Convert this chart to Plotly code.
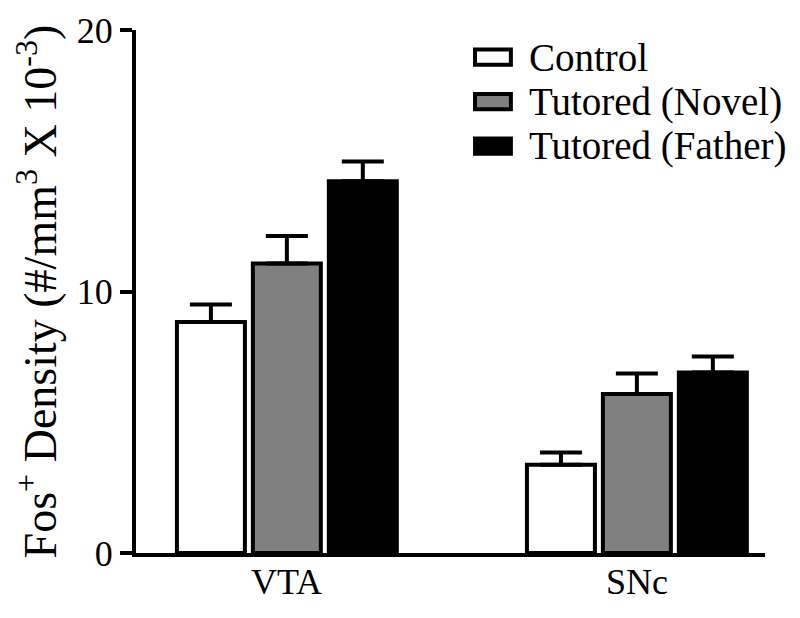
import plotly.graph_objects as go

# data
regions = ['VTA', 'SNc']
groups = ['Control', 'Tutored (Novel)', 'Tutored (Father)']
fos_density = {
    'Control': [8.83, 3.37],
    'Tutored (Novel)': [11.07, 6.08],
    'Tutored (Father)': [14.22, 6.90],
}
fos_sem = {
    'Control': [0.67, 0.47],
    'Tutored (Novel)': [1.05, 0.78],
    'Tutored (Father)': [0.75, 0.61],
}
fills = {'Control': 'white', 'Tutored (Novel)': '#808080', 'Tutored (Father)': 'black'}
y_ticks = [0, 10, 20]

FONT = 'Liberation Serif, Times New Roman, serif'

fig = go.Figure()
for g in groups:
    fig.add_trace(go.Bar(
        x=regions, y=fos_density[g], name=g,
        marker=dict(color=fills[g], line=dict(color='black', width=4)),
        error_y=dict(type='data', symmetric=False, array=fos_sem[g],
                     arrayminus=[0] * len(regions),
                     color='black', thickness=4, width=21),
        showlegend=False,
    ))

# hand-drawn legend (wide boxes like the original)
for i, g in enumerate(groups):
    yc = 0.948 - i * 0.085
    fig.add_shape(type='rect', xref='paper', yref='paper',
                  x0=0.539, x1=0.596, y0=yc - 0.0145, y1=yc + 0.0145,
                  fillcolor=fills[g], line=dict(color='black', width=4))
    fig.add_annotation(text=g, xref='paper', yref='paper', x=0.622, y=yc,
                       xanchor='left', yanchor='middle', showarrow=False,
                       font=dict(family=FONT, size=39, color='black'))

# category labels sit closer to the axis than plotly's default
for r in regions:
    fig.add_annotation(text=r, x=r, xref='x', y=0, yref='paper',
                       yanchor='top', yshift=-7, showarrow=False,
                       font=dict(family=FONT, size=36, color='black'))

# page has an 8px body margin, so margins are shifted by 8
fig.update_layout(
    width=800, height=618,
    margin=dict(l=128, r=43, t=22, b=73),
    paper_bgcolor='white', plot_bgcolor='white',
    barmode='group', bargap=0.349, bargroupgap=0.105,
    font=dict(family=FONT, size=36, color='black'),
    xaxis=dict(range=[-0.431, 1.366], showline=True, linewidth=4,
               linecolor='black', ticks='', showgrid=False,
               showticklabels=False, automargin=False),
    yaxis=dict(range=[0, 20], tickvals=y_ticks, showline=True, linewidth=4,
               linecolor='black', ticks='outside', ticklen=12, tickwidth=4,
               tickcolor='black', showgrid=False, zeroline=False,
               automargin=False,
               tickfont=dict(size=36, color='black'),
               title=dict(text='Fos<sup>+</sup> Density (#/mm<sup>3</sup> X 10<sup>-3</sup>)',
                          font=dict(size=46, color='black'), standoff=10)),
)

fig.write_html('out.html')
